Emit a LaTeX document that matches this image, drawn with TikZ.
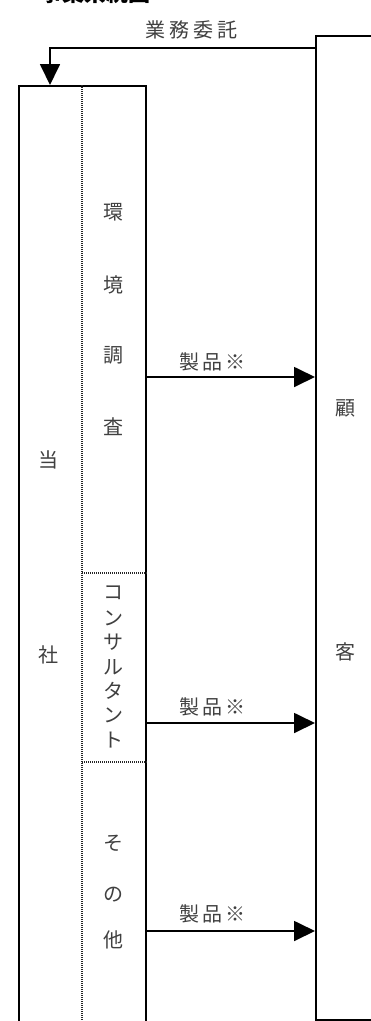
\documentclass[tikz,border=0pt]{standalone}
\usepackage{fontspec}
\newfontfamily\jp{Noto Sans CJK JP}
\usetikzlibrary{arrows.meta}
\begin{document}
\begin{tikzpicture}[x=1pt,y=-1pt,
  lbl/.style={font=\jp\fontsize{20}{20}\selectfont, text=black!75, inner sep=0pt},
  boxline/.style={draw=black, line width=1.8pt},
  divline/.style={line width=1.1pt, dash pattern=on 1pt off 1pt, black!85},
  flow/.style={draw=black, line width=1.8pt, -{Triangle[length=21pt,width=20pt]}}]
\useasboundingbox (0,0) rectangle (371,1021);
\begin{scope}
\clip (0,0) rectangle (371,1021);
% title (cut off at the top)
\node[font=\jp\bfseries\fontsize{22}{22}\selectfont, anchor=south west, inner sep=0pt] (title) at (40,4) {事業系統図};
% boxes
\node[boxline, minimum width=127pt, minimum height=980pt, anchor=north west, inner sep=0pt] (tosha) at (18,85) {};
\node[boxline, minimum width=100pt, minimum height=984pt, anchor=north west, inner sep=0pt] (kokyaku) at (315,35) {};
% internal divisions
\coordinate (dtop) at (82,85);
\coordinate (dbot) at (82,1030);
\draw[divline] (dtop) -- (dbot);
\coordinate (d1) at (82,573);
\coordinate (d2) at (82,762);
\draw[divline] (d1) -- (d1 -| tosha.east);
\draw[divline] (d2) -- (d2 -| tosha.east);
% left column text
\node[lbl] (to) at (48,460) {当};
\node[lbl] (sha) at (48,655) {社};
% environment survey
\node[lbl] (k1) at (113,212) {環};
\node[lbl] (k2) at (113,285) {境};
\node[lbl] (k3) at (113,355) {調};
\node[lbl] (k4) at (113,427) {査};
% consultant
\node[lbl] (c1) at (113,593) {コ};
\node[lbl] (c2) at (113,618) {ン};
\node[lbl] (c3) at (113,642) {サ};
\node[lbl] (c4) at (113,667) {ル};
\node[lbl] (c5) at (113,691) {タ};
\node[lbl] (c6) at (113,715) {ン};
\node[lbl] (c7) at (113,740) {ト};
% others
\node[lbl] (s1) at (113,843) {そ};
\node[lbl] (s2) at (113,895) {の};
\node[lbl] (s3) at (113,940) {他};
% customer
\node[lbl] (g1) at (345,408) {顧};
\node[lbl] (g2) at (345,652) {客};
% commission arrow
\coordinate (ca) at (0,48);
\coordinate (cb) at (50,0);
\draw[flow] (kokyaku.west |- ca) -| (tosha.north -| cb);
\node[lbl] (gyomu) at (191,30) {業\hspace{4pt}務\hspace{4pt}委\hspace{4pt}託};
% product arrows
\coordinate (p1) at (0,377);
\coordinate (p2) at (0,723);
\coordinate (p3) at (0,931);
\draw[flow] (tosha.east |- p1) -- (kokyaku.west |- p1);
\draw[flow] (tosha.east |- p2) -- (kokyaku.west |- p2);
\draw[flow] (tosha.east |- p3) -- (kokyaku.west |- p3);
\node[lbl] (e1) at (212,362) {製\hspace{3pt}品\hspace{3pt}※};
\node[lbl] (e2) at (212,707) {製\hspace{3pt}品\hspace{3pt}※};
\node[lbl] (e3) at (212,914) {製\hspace{3pt}品\hspace{3pt}※};
\end{scope}
\end{tikzpicture}
\end{document}
